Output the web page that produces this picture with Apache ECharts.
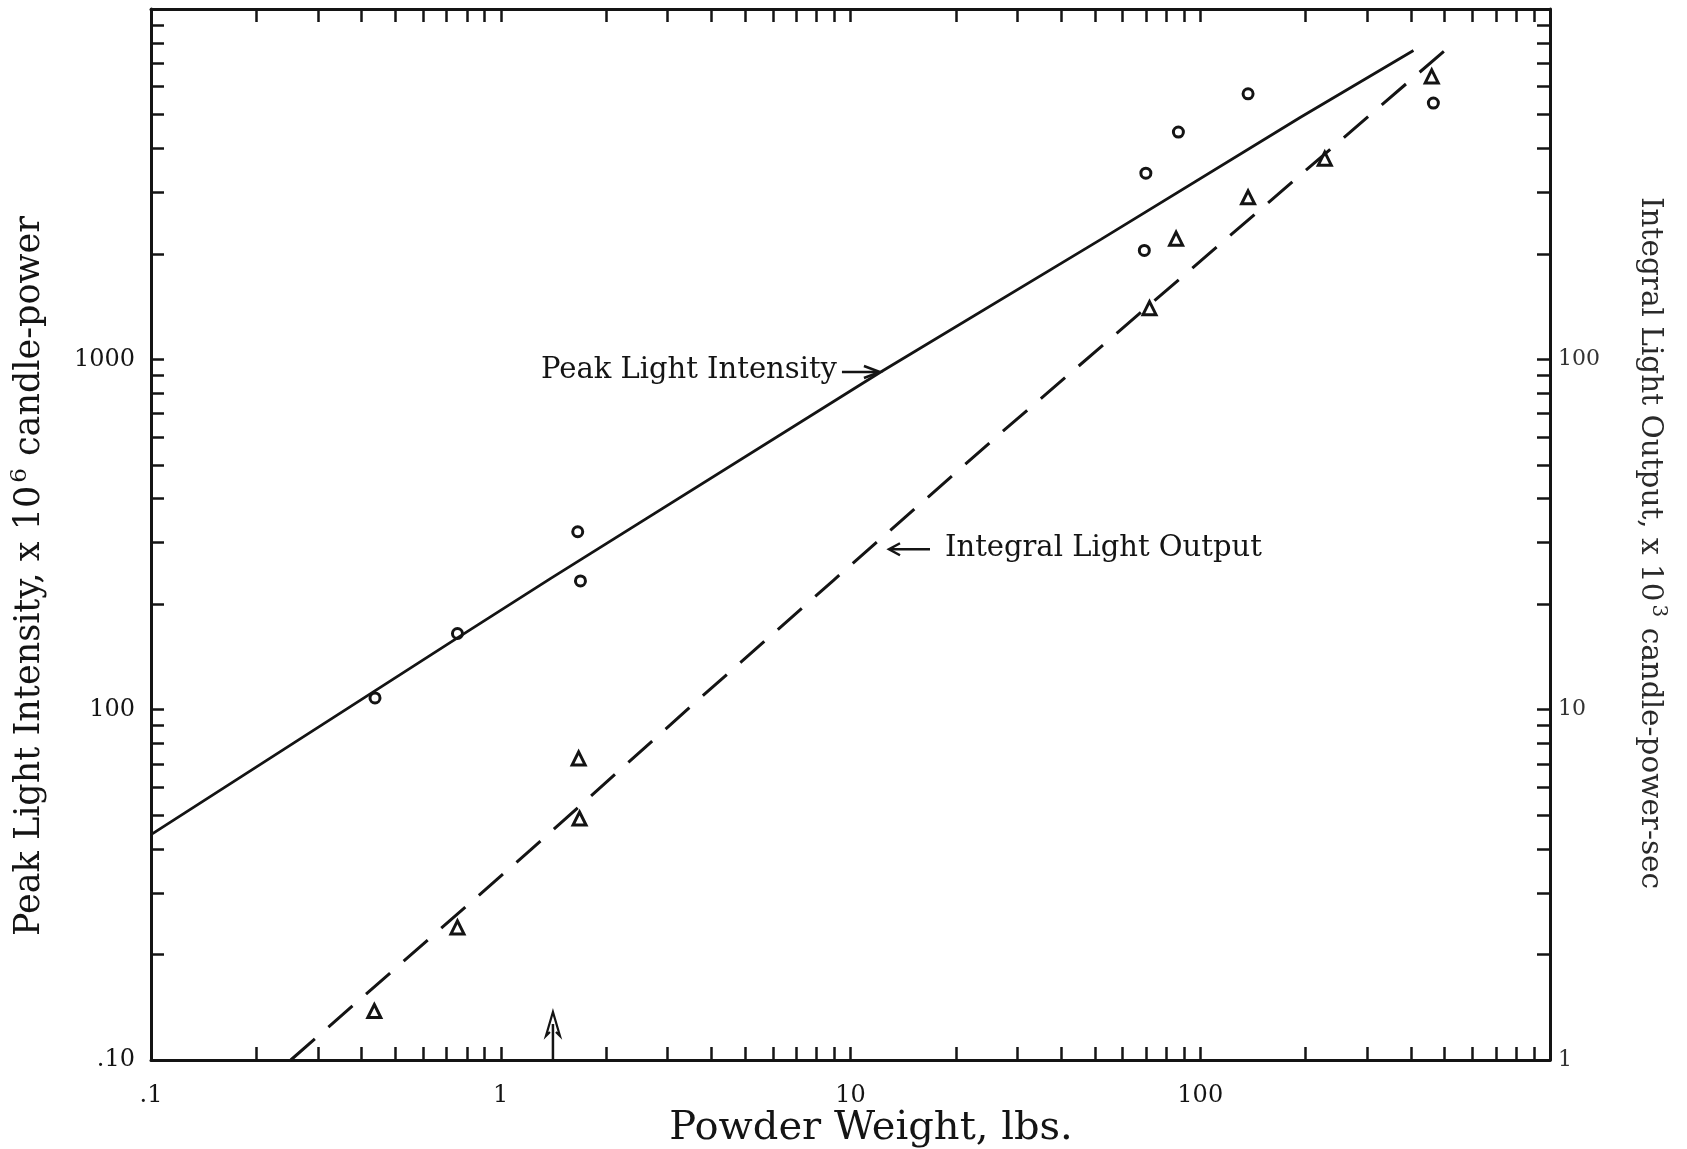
<!DOCTYPE html>
<html><head><meta charset="utf-8">
<script src="https://cdn.jsdelivr.net/npm/echarts@6/dist/echarts.min.js"></script>
<style>html,body{margin:0;padding:0;background:#fff}#c{width:1687px;height:1149px}</style>
</head><body><div id="c"></div>
<script>
// ---- data ----
const peakX = [0.437, 0.752, 1.66, 1.69, 69.2, 69.9, 86.6, 137, 464];
const peakY = [108, 165, 322, 233, 2046, 3400, 4452, 5728, 5387];
const integralX = [0.435, 0.752, 1.67, 1.68, 71.6, 85.3, 137, 227, 459];
const integralY = [1.38, 2.39, 7.26, 4.89, 140, 221, 290, 374, 642];
const peakLineX = [0.1, 0.75, 1.39, 12.2, 52, 193, 407];
const peakLineY = [44, 160, 237, 920, 2200, 4900, 7610];
const integralLineX = [0.251, 1.215, 3.72, 8.94, 26.8, 51.7, 501];
const integralLineY = [1, 3.97, 10.8, 23.4, 61.4, 108, 762];
const xLabelValues = [0.1, 1, 10, 100];
const xLabelText = ['.1', '1', '10', '100'];
const yLeftLabelValues = [10, 100, 1000];
const yLeftLabelText = ['.10', '100', '1000'];
const yRightLabelValues = [1, 10, 100];
const yRightLabelText = ['1', '10', '100'];
const tickMultipliers = [1, 2, 3, 4, 5, 6, 7, 8, 9];
const peakLabelAt = [12.3, 920];      // arrow tip, left axis
const integralLabelAt = [12.8, 28.7]; // arrow tip, right axis
const markerArrowAt = [1.41, 10];     // upward arrow on the x axis

// ---- helpers ----
const FONT = 'DejaVu Serif';
const INK = '#141414';
function logTicks(min, max) {
  const out = [];
  for (let e = Math.round(Math.log10(min)); e < Math.round(Math.log10(max)); e++)
    for (const m of tickMultipliers) out.push(+(m * Math.pow(10, e)).toPrecision(6));
  out.push(max);
  return out;
}
function labeler(vals, texts) {
  return function (v) {
    for (let i = 0; i < vals.length; i++)
      if (Math.abs(Math.log10(v) - Math.log10(vals[i])) < 1e-6) return texts[i];
    return '';
  };
}
const zip = (a, b) => a.map((v, i) => [v, b[i]]);
const axisLine = { show: true, lineStyle: { color: INK, width: 3 } };
function tick(vals) { return { show: true, inside: true, length: 13, lineStyle: { color: INK, width: 2.5 }, customValues: vals }; }

const xTicks = logTicks(0.1, 1000);
const yLTicks = logTicks(10, 10000);
const yRTicks = logTicks(1, 1000);

const chart = echarts.init(document.getElementById('c'), null, { renderer: 'canvas' });

const option = {
  animation: false,
  backgroundColor: '#fff',
  grid: { left: 151, right: 137, top: 9, bottom: 89, containLabel: false },
  xAxis: [
    { type: 'log', logBase: 10, min: 0.1, max: 1000, position: 'bottom',
      axisLine, axisTick: tick(xTicks), splitLine: { show: false }, minorTick: { show: false },
      axisLabel: { customValues: xLabelValues, formatter: labeler(xLabelValues, xLabelText),
        margin: 24, color: INK, fontFamily: FONT, fontSize: 24 } },
    { type: 'log', logBase: 10, min: 0.1, max: 1000, position: 'top',
      axisLine, axisTick: tick(xTicks), splitLine: { show: false },
      axisLabel: { show: false } }
  ],
  yAxis: [
    { type: 'log', logBase: 10, min: 10, max: 10000, position: 'left',
      axisLine, axisTick: tick(yLTicks), splitLine: { show: false },
      axisLabel: { customValues: yLeftLabelValues, formatter: labeler(yLeftLabelValues, yLeftLabelText),
        margin: 16, color: INK, fontFamily: FONT, fontSize: 24 } },
    { type: 'log', logBase: 10, min: 1, max: 1000, position: 'right',
      axisLine, axisTick: tick(yRTicks), splitLine: { show: false },
      axisLabel: { customValues: yRightLabelValues, formatter: labeler(yRightLabelValues, yRightLabelText),
        margin: 8, color: '#333', fontFamily: FONT, fontSize: 22 } }
  ],
  series: [
    { name: 'Peak Light Intensity', type: 'line', xAxisIndex: 0, yAxisIndex: 0,
      data: zip(peakLineX, peakLineY), showSymbol: false, symbol: 'none',
      lineStyle: { color: INK, width: 2.8, type: 'solid' } },
    { name: 'Integral Light Output', type: 'line', xAxisIndex: 0, yAxisIndex: 1,
      data: zip(integralLineX, integralLineY), showSymbol: false, symbol: 'none',
      lineStyle: { color: INK, width: 3, type: [32, 18] } },
    { name: 'peak pts', type: 'scatter', xAxisIndex: 0, yAxisIndex: 0,
      data: zip(peakX, peakY), symbol: 'circle', symbolSize: 10,
      itemStyle: { color: '#fff', borderColor: INK, borderWidth: 3, opacity: 1 } },
    { name: 'integral pts', type: 'scatter', xAxisIndex: 0, yAxisIndex: 1,
      data: zip(integralX, integralY), symbol: 'triangle', symbolSize: 13,
      itemStyle: { color: '#fff', borderColor: INK, borderWidth: 3, opacity: 1 } },
    { type: 'custom', xAxisIndex: 0, yAxisIndex: 0, clip: false, silent: true,
      data: [peakLabelAt],
      renderItem: function (params, api) {
        const p = api.coord([api.value(0), api.value(1)]);
        return { type: 'group', children: [
          { type: 'text', x: p[0] - 45, y: p[1] - 2,
            style: { text: 'Peak Light Intensity', fill: INK, font: '29px "DejaVu Serif"', textAlign: 'right', textVerticalAlign: 'middle' } },
          { type: 'polyline', shape: { points: [[p[0] - 40, p[1]], [p[0] - 4, p[1]]] }, style: { stroke: INK, lineWidth: 2.5, fill: null } },
          { type: 'polyline', shape: { points: [[p[0] - 18, p[1] - 6], [p[0] - 2, p[1]], [p[0] - 18, p[1] + 6]] }, style: { stroke: INK, lineWidth: 2.5, fill: null } }
        ] };
      } },
    { type: 'custom', xAxisIndex: 0, yAxisIndex: 1, clip: false, silent: true,
      data: [integralLabelAt],
      renderItem: function (params, api) {
        const p = api.coord([api.value(0), api.value(1)]);
        return { type: 'group', children: [
          { type: 'text', x: p[0] + 57, y: p[1] - 1,
            style: { text: 'Integral Light Output', fill: INK, font: '29px "DejaVu Serif"', textAlign: 'left', textVerticalAlign: 'middle' } },
          { type: 'polyline', shape: { points: [[p[0] + 2, p[1]], [p[0] + 42, p[1]]] }, style: { stroke: INK, lineWidth: 2.5, fill: null } },
          { type: 'polyline', shape: { points: [[p[0] + 12, p[1] - 6], [p[0] + 1, p[1]], [p[0] + 12, p[1] + 6]] }, style: { stroke: INK, lineWidth: 2.5, fill: null } }
        ] };
      } },
    { type: 'custom', xAxisIndex: 0, yAxisIndex: 0, clip: false, silent: true,
      data: [markerArrowAt],
      renderItem: function (params, api) {
        const p = api.coord([api.value(0), api.value(1)]);
        return { type: 'group', children: [
          { type: 'polyline', shape: { points: [[p[0], p[1]], [p[0], p[1] - 36]] }, style: { stroke: INK, lineWidth: 2.5, fill: null } },
          { type: 'polyline', shape: { points: [[p[0] - 3, p[1] - 28], [p[0] - 7, p[1] - 24], [p[0], p[1] - 48], [p[0] + 7, p[1] - 24], [p[0] + 3, p[1] - 28]] }, style: { stroke: INK, lineWidth: 2.2, fill: null } }
        ] };
      } }
  ],
  graphic: [
    { type: 'text', x: 871, y: 1129, silent: true,
      style: { text: 'Powder Weight, lbs.', fill: INK, font: '40px "DejaVu Serif"', textAlign: 'center', textVerticalAlign: 'middle' } },
    { type: 'text', x: 30, y: 576, rotation: Math.PI / 2, silent: true,
      style: { text: '{a|Peak Light Intensity, x 10}{s|6}{a| candle-power}', textAlign: 'center', textVerticalAlign: 'middle',
        rich: { a: { fontFamily: FONT, fontSize: 35, fill: INK, color: INK, lineHeight: 42 },
                s: { fontFamily: FONT, fontSize: 23, fill: INK, color: INK, verticalAlign: 'top', lineHeight: 42, padding: [0, 1, 0, 3] } } } },
    { type: 'text', x: 1650, y: 543, rotation: -Math.PI / 2, silent: true,
      style: { text: '{a|Integral Light Output, x 10}{s|3}{a| candle-power-sec}', textAlign: 'center', textVerticalAlign: 'middle',
        rich: { a: { fontFamily: FONT, fontSize: 29.5, fill: '#2a2a2a', color: '#2a2a2a', lineHeight: 36 },
                s: { fontFamily: FONT, fontSize: 20, fill: '#2a2a2a', color: '#2a2a2a', verticalAlign: 'top', lineHeight: 36, padding: [0, 1, 0, 3] } } } }
  ]
};
chart.setOption(option);
</script>
</body></html>
